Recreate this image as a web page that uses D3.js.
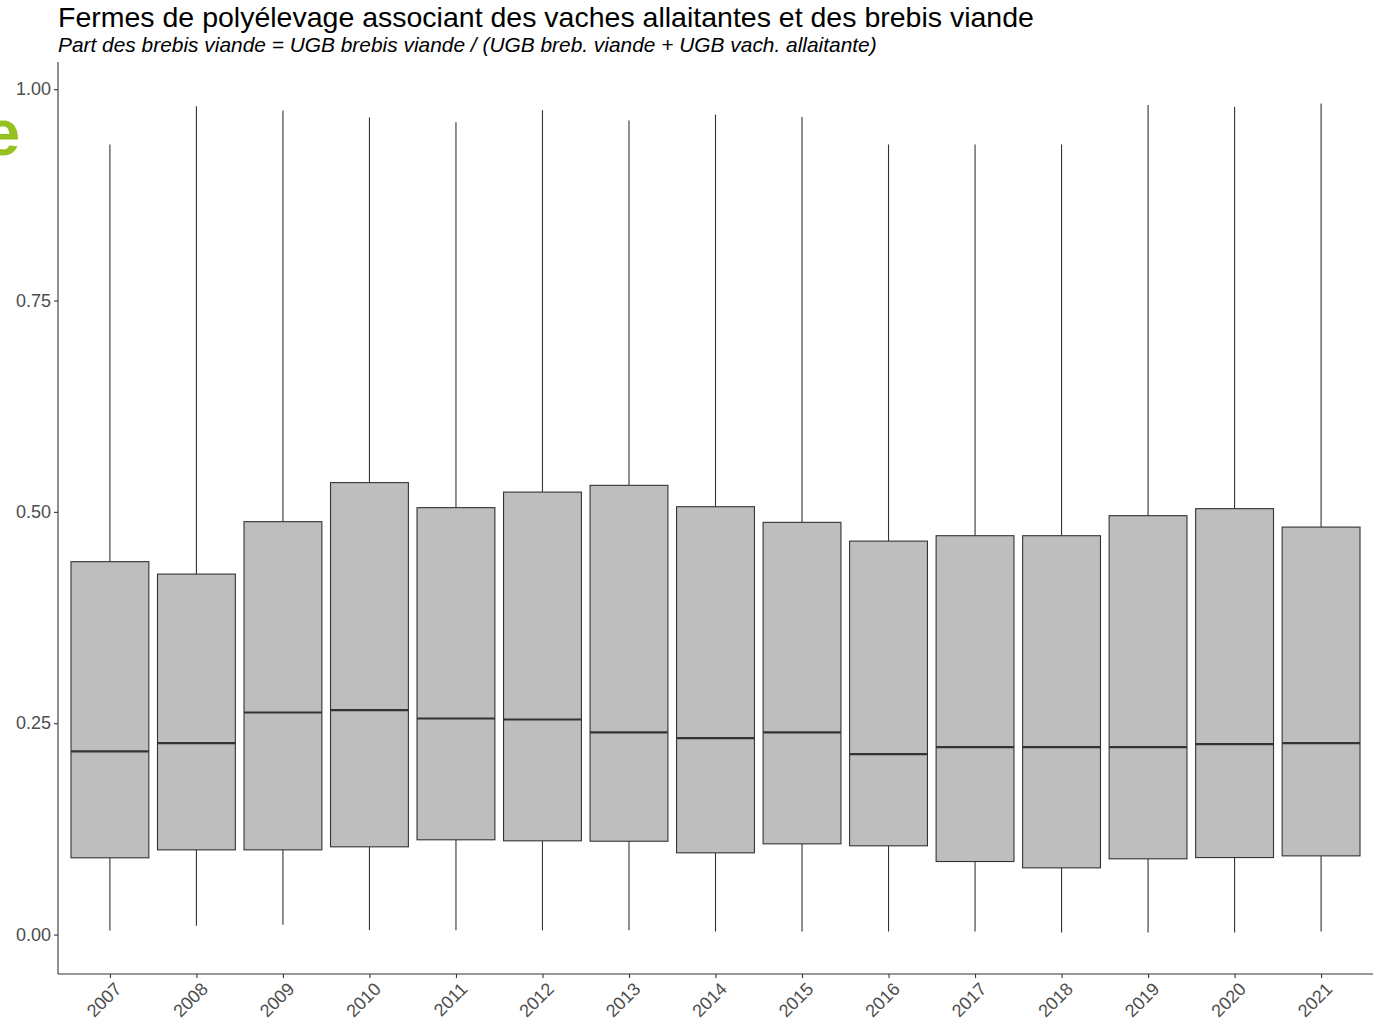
<!DOCTYPE html>
<html><head><meta charset="utf-8">
<script src="https://cdn.jsdelivr.net/npm/d3@7"></script>
<style>body{margin:0;background:#fff;} svg{display:block;font-family:"Liberation Sans",Arial,sans-serif;}</style>
</head><body>
<script>
const years = ["2007","2008","2009","2010","2011","2012","2013","2014","2015","2016","2017","2018","2019","2020","2021"];
const whiskerLow  = [0.0047,0.0103,0.0115,0.0055,0.005,0.005,0.005,0.0036,0.0036,0.0036,0.0036,0.0024,0.0024,0.0024,0.0036];
const q1          = [0.0908,0.1002,0.1002,0.1038,0.1121,0.1109,0.1104,0.0967,0.1073,0.1050,0.0864,0.0789,0.0896,0.0911,0.0931];
const median      = [0.2166,0.2264,0.2627,0.2654,0.2556,0.2544,0.2391,0.2323,0.2391,0.2134,0.2217,0.2217,0.2217,0.2252,0.2264];
const q3          = [0.4411,0.4264,0.4884,0.5346,0.5050,0.5234,0.5314,0.5061,0.4876,0.4654,0.4718,0.4718,0.4955,0.5038,0.4820];
const whiskerHigh = [0.9346,0.9799,0.9748,0.9665,0.9610,0.9750,0.9630,0.9700,0.9670,0.9346,0.9346,0.9346,0.9814,0.9793,0.9831];
const yTicks = [0, 0.25, 0.5, 0.75, 1.0];

const W = 1374, H = 1021;
const m = {left:58, right:1373, top:62, bottom:974};
const svg = d3.select("body").append("svg").attr("width", W).attr("height", H);

const data = years.map((y,i)=>({year:y, lo:whiskerLow[i], q1:q1[i], med:median[i], q3:q3[i], hi:whiskerHigh[i]}));

const dmin = d3.min(whiskerLow), dmax = d3.max(whiskerHigh);
const pad = (dmax - dmin) * 0.05;
const y = d3.scaleLinear().domain([dmin - pad, dmax + pad]).range([m.bottom, m.top]);
const unit = (m.right - m.left) / (years.length - 1 + 1.2);
const x = d3.scalePoint().domain(years).range([m.left + 0.6*unit, m.right - 0.6*unit]);
const bw = unit * 0.9;

// green logo fragment (cut at the left edge, as in the reference)
svg.append("text").attr("x", 20).attr("y", 155).attr("text-anchor","end")
  .attr("font-size", 64).attr("font-weight","bold").attr("fill","#95c11f").text("e");

const g = svg.append("g");
data.forEach(d=>{
  const cx = x(d.year);
  g.append("line").attr("x1",cx).attr("x2",cx).attr("y1",y(d.hi)).attr("y2",y(d.q3)).attr("stroke","#333").attr("stroke-width",1.1);
  g.append("line").attr("x1",cx).attr("x2",cx).attr("y1",y(d.q1)).attr("y2",y(d.lo)).attr("stroke","#333").attr("stroke-width",1.1);
  g.append("rect").attr("x",cx-bw/2).attr("width",bw).attr("y",y(d.q3)).attr("height",y(d.q1)-y(d.q3))
    .attr("fill","#bebebe").attr("stroke","#333").attr("stroke-width",1.1);
  g.append("line").attr("x1",cx-bw/2).attr("x2",cx+bw/2).attr("y1",y(d.med)).attr("y2",y(d.med)).attr("stroke","#333").attr("stroke-width",2.2);
});

const yAxis = svg.append("g").attr("transform",`translate(${m.left},0)`)
  .call(d3.axisLeft(y).tickValues(yTicks).tickFormat(d3.format(".2f")).tickSize(4).tickPadding(3));
const xAxis = svg.append("g").attr("transform",`translate(0,${m.bottom})`)
  .call(d3.axisBottom(x).tickSize(4).tickPadding(2));
[yAxis, xAxis].forEach(a=>{
  a.attr("font-size",null);
  a.select(".domain").remove();
  a.selectAll(".tick line").attr("stroke","#333").attr("stroke-width",1.1);
  a.selectAll(".tick text").attr("fill","#4d4d4d").style("font-family","Liberation Sans, Arial, sans-serif");
});
yAxis.selectAll(".tick text").style("font-size","18px");
xAxis.selectAll(".tick text").style("font-size","18px").attr("text-anchor","end").attr("dy",null).attr("y",0)
  .attr("transform","translate(3,7) rotate(-45)").attr("dominant-baseline","hanging");
svg.append("line").attr("x1",m.left).attr("x2",m.left).attr("y1",m.top).attr("y2",m.bottom).attr("stroke","#333").attr("stroke-width",1.1);
svg.append("line").attr("x1",m.left).attr("x2",m.right).attr("y1",m.bottom).attr("y2",m.bottom).attr("stroke","#333").attr("stroke-width",1.1);

svg.append("text").attr("x",58).attr("y",27).style("font-size","28.5px").attr("fill","#000")
  .text("Fermes de polyélevage associant des vaches allaitantes et des brebis viande");
svg.append("text").attr("x",58).attr("y",52).style("font-size","20.9px").attr("font-style","italic").attr("fill","#000")
  .text("Part des brebis viande = UGB brebis viande / (UGB breb. viande + UGB vach. allaitante)");
</script>
</body></html>
